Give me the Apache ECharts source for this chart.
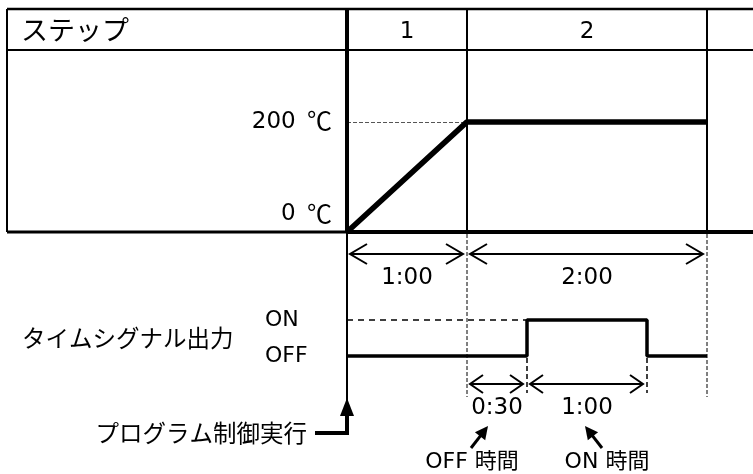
<!DOCTYPE html>
<html>
<head>
<meta charset="utf-8">
<script src="https://cdn.jsdelivr.net/npm/echarts@6/dist/echarts.min.js"></script>
<style>
html, body { margin: 0; padding: 0; background: #fff; }
#chart { width: 753px; height: 474px; }
</style>
</head>
<body>
<div id="chart"></div>
<script>
// ステップ (分)
var stepNames = ['1', '2'];
var stepBounds = [0, 60, 180];
var stepTimeText = ['1:00', '2:00'];
// 温度プログラム
var tempTimes = [0, 60, 180];
var tempValues = [0, 200, 200];
var tempTicks = [0, 200];
// タイムシグナル
var signalLevels = ['OFF', 'ON'];
var signalTimes = [0, 90, 150, 180];
var signalValues = ['OFF', 'ON', 'OFF', 'OFF'];
var signalSpans = [[60, 90], [90, 150]];
var signalSpanText = ['0:30', '1:00'];
var signalSpanName = ['OFF 時間', 'ON 時間'];

var FONT = '"DejaVu Sans", "Noto Sans CJK JP", sans-serif';
var JFONT = '"Noto Sans CJK JP", sans-serif';
var GL = 347, GW = 360;

var myChart = echarts.init(document.getElementById('chart'));

function txt(s, x, y, size, align, family){
	return {
		type: 'text',
		style: { text: s, x: x, y: y, fill: '#000', fontSize: size, fontFamily: family || FONT,
			align: align || 'center', verticalAlign: 'middle' }
	};
}
function ln(x1, y1, x2, y2, w, dash){
	return {
		type: 'line',
		shape: { x1: x1, y1: y1, x2: x2, y2: y2 },
		style: { stroke: '#000', lineWidth: w, lineDash: dash || null }
	};
}
function dimArrow(x0, x1, y, arm, half, w){
	return [
		ln(x0, y, x1, y, w),
		{ type: 'polyline', shape: { points: [[x0 + arm, y - half], [x0, y], [x0 + arm, y + half]] },
			style: { stroke: '#000', fill: null, lineWidth: w } },
		{ type: 'polyline', shape: { points: [[x1 - arm, y - half], [x1, y], [x1 - arm, y + half]] },
			style: { stroke: '#000', fill: null, lineWidth: w } }
	];
}
function headArrow(tx, ty, fx, fy, len, half){
	var dx = tx - fx, dy = ty - fy, d = Math.sqrt(dx * dx + dy * dy);
	var ux = dx / d, uy = dy / d;
	var bx = tx - ux * len, by = ty - uy * len;
	return {
		type: 'polygon',
		shape: { points: [[tx, ty], [bx - uy * half, by + ux * half], [bx + uy * half, by - ux * half]] },
		style: { fill: '#000' }
	};
}

var option = {
	animation: false,
	textStyle: { fontFamily: FONT, color: '#000' },
	grid: [
		{ left: GL, width: GW, top: 9, height: 223 },
		{ left: GL, width: GW, top: 302, height: 72 }
	],
	xAxis: [
		{ type: 'value', gridIndex: 0, min: 0, max: 180, show: false },
		{ type: 'value', gridIndex: 1, min: 0, max: 180, show: false }
	],
	yAxis: [
		{
			type: 'value', gridIndex: 0, min: 0, max: 405,
			axisLine: { show: false }, axisTick: { show: false }, splitLine: { show: false },
			axisLabel: {
				customValues: tempTicks,
				margin: 15,
				fontSize: 23,
				color: '#000',
				formatter: function(v){
					return v === 0 ? '{lo|' + v + ' }{loc|℃}' : '{n|' + v + ' }{c|℃}';
				},
				rich: {
					n: { fontSize: 23, fontFamily: FONT },
					c: { fontSize: 25, fontFamily: JFONT, padding: [0, 0, 2, 4] },
					lo: { fontSize: 23, fontFamily: FONT, padding: [0, 0, 36, 0] },
					loc: { fontSize: 25, fontFamily: JFONT, padding: [0, 0, 38, 4] }
				}
			}
		},
		{
			type: 'category', gridIndex: 1, data: signalLevels,
			axisLine: { show: false }, axisTick: { show: false }, splitLine: { show: false },
			axisLabel: { align: 'left', margin: 82, fontSize: 22, color: '#000', fontFamily: FONT }
		}
	],
	graphic: [
		ln(7, 9, 753, 9, 2.5),
		ln(7, 50, 753, 50, 2),
		ln(7, 9, 7, 232, 2),
		ln(7, 232, 347, 232, 3),
		ln(347, 232, 753, 232, 4),
		txt('ステップ', 21, 30, 27, 'left', JFONT),
		txt('タイムシグナル出力', 22, 338, 23.5, 'left', JFONT),
		txt('プログラム制御実行', 307, 433, 23.5, 'right', JFONT)
	],
	series: [
		{
			name: '温度',
			type: 'line',
			xAxisIndex: 0, yAxisIndex: 0,
			data: tempTimes.map(function(t, i){ return [t, tempValues[i]]; }),
			symbol: 'none',
			lineStyle: { color: '#000', width: 5.5 },
			z: 5,
			markLine: {
				silent: true,
				symbol: 'none',
				label: { show: false },
				data: [
					[{ coord: [0, 200], lineStyle: { color: '#555', width: 1.2, type: [4, 2] } }, { coord: [60, 200] }],
					{ xAxis: stepBounds[0], lineStyle: { color: '#000', width: 4, type: 'solid' } },
					{ xAxis: stepBounds[1], lineStyle: { color: '#000', width: 2, type: 'solid' } },
					{ xAxis: stepBounds[2], lineStyle: { color: '#000', width: 2, type: 'solid' } }
				]
			}
		},
		{
			name: 'タイムシグナル',
			type: 'line',
			xAxisIndex: 1, yAxisIndex: 1,
			step: 'start',
			data: signalTimes.map(function(t, i){ return [t, signalLevels.indexOf(signalValues[i])]; }),
			symbol: 'none',
			lineStyle: { color: '#000', width: 3.5 },
			markLine: {
				silent: true,
				symbol: 'none',
				label: { show: false },
				data: [
					[{ coord: [0, 1], lineStyle: { color: '#000', width: 1.5, type: [6, 5] } }, { coord: [signalSpans[0][1], 1] }]
				]
			}
		},
		{
			// ステップ番号
			type: 'custom',
			xAxisIndex: 0, yAxisIndex: 0,
			data: stepNames.map(function(n, i){ return [stepBounds[i], stepBounds[i + 1]]; }),
			renderItem: function(params, api){
				var x0 = api.coord([api.value(0), 0])[0];
				var x1 = api.coord([api.value(1), 0])[0];
				return txt(stepNames[params.dataIndex], (x0 + x1) / 2, 32, 23);
			}
		},
		{
			// ステップ時間の寸法線
			type: 'custom',
			xAxisIndex: 0, yAxisIndex: 0,
			data: stepTimeText.map(function(s, i){ return [stepBounds[i], stepBounds[i + 1]]; }),
			renderItem: function(params, api){
				var x0 = api.coord([api.value(0), 0])[0];
				var x1 = api.coord([api.value(1), 0])[0];
				var ch = [ln(x1, 234, x1, 397, 1, [4, 2])];
				ch = ch.concat(dimArrow(x0 + 3, x1 - 4, 254, 17, 10, 2));
				ch.push(txt(stepTimeText[params.dataIndex], (x0 + x1) / 2, 278, 23));
				return { type: 'group', children: ch };
			}
		},
		{
			// OFF / ON 時間
			type: 'custom',
			xAxisIndex: 0, yAxisIndex: 0,
			data: signalSpans,
			renderItem: function(params, api){
				var i = params.dataIndex;
				var x0 = api.coord([api.value(0), 0])[0];
				var x1 = api.coord([api.value(1), 0])[0];
				var mid = (x0 + x1) / 2;
				var dir = i === 0 ? -1 : 1;
				var ch = [ln(x1, 358, x1, 393, 1.5, [5, 3])];
				ch = ch.concat(dimArrow(x0 + 3, x1 - 4, 384, 13, 9, 2));
				ch.push(txt(signalSpanText[i], mid, 408, 23));
				var tipX = mid + (i === 0 ? -9 : -2), tipY = 426;
				var tailX = tipX + 17 * dir, tailY = 448;
				ch.push(ln(tailX, tailY, tipX + (tailX - tipX) * 0.4, tipY + (tailY - tipY) * 0.4, 3));
				ch.push(headArrow(tipX, tipY, tailX, tailY, 13, 6.5));
				ch.push(txt(signalSpanName[i], tailX + (i === 0 ? 1 : 5), 462, 22));
				return { type: 'group', children: ch };
			}
		},
		{
			// プログラム制御実行
			type: 'custom',
			xAxisIndex: 0, yAxisIndex: 0,
			data: [[stepBounds[0], 0]],
			renderItem: function(params, api){
				var x = api.coord([api.value(0), 0])[0];
				return {
					type: 'group',
					children: [
						ln(x, 232, x, 405, 2),
						{ type: 'polyline', shape: { points: [[315, 433], [x, 433], [x, 410]] },
							style: { stroke: '#000', fill: null, lineWidth: 4 } },
						{ type: 'polygon', shape: { points: [[x, 398], [x - 7, 416], [x + 7, 416]] },
							style: { fill: '#000' } }
					]
				};
			}
		}
	]
};
myChart.setOption(option);
</script>
</body>
</html>
